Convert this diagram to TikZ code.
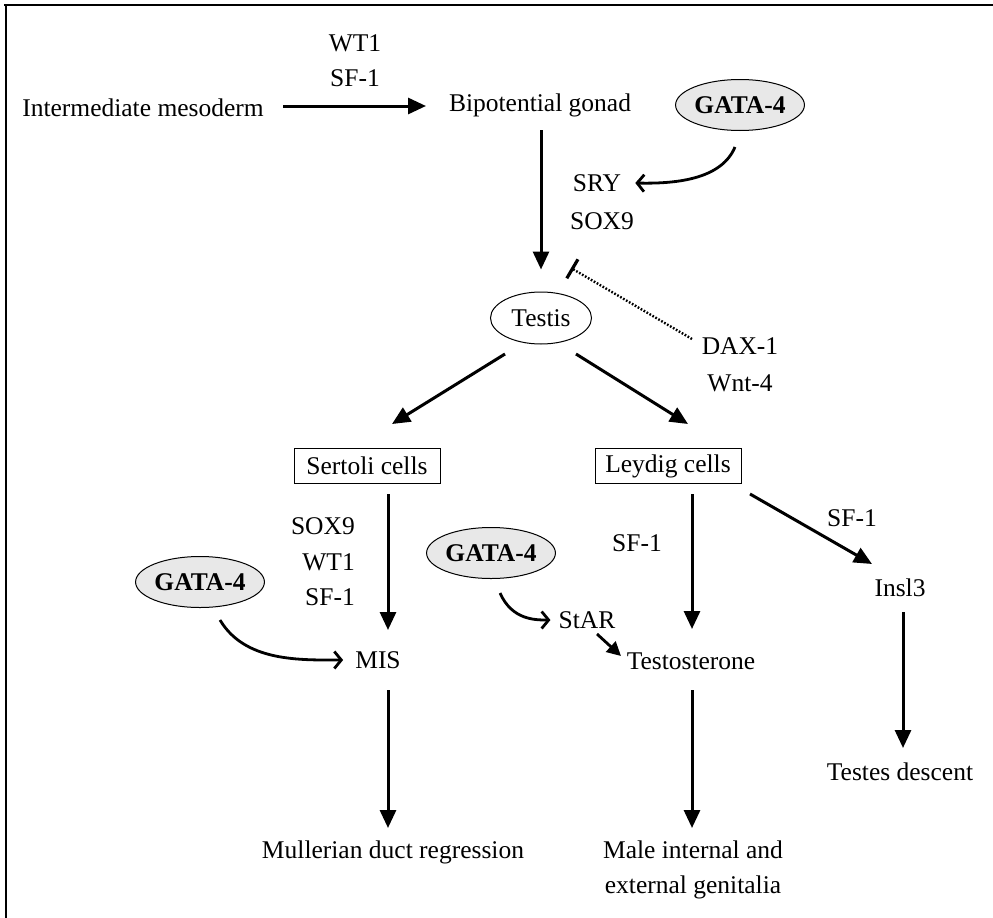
\documentclass[tikz,border=0pt]{standalone}
\usepackage{fontspec}
\setmainfont{Liberation Serif}
\usetikzlibrary{arrows.meta,shapes.geometric}
\begin{document}
\begin{tikzpicture}[x=1pt,y=-1pt,
  every node/.style={font=\fontsize{25.5}{35}\selectfont, inner sep=0pt},
  gata/.style={ellipse, draw, line width=1pt, fill=gray!18, minimum width=124pt, minimum height=51pt, font=\fontsize{25.5}{28}\selectfont\bfseries},
  cellbox/.style={rectangle, draw, line width=1pt, minimum width=146pt, minimum height=35pt},
  arr/.style={line width=3pt, -{Triangle[length=18pt,width=16pt]}},
  openarr/.style={line width=2.8pt, -{Straight Barb[length=7pt,width=17pt,line width=2.8pt]}},
  inhib/.style={line width=2.4pt, dash pattern=on 1.7pt off 1.7pt, -{Bar[width=22pt,line width=3.2pt]}}
]
\useasboundingbox (0,0) rectangle (993,918);
% frame
\draw[line width=2.2pt] (4,5) -- (993,5);
\draw[line width=2.2pt] (6,4) -- (6,918);

% top row
\node (wt1a) at (355,43) {WT1};
\node (sf1a) at (355,78) {SF-1};
\node (im) at (143,108) {Intermediate mesoderm};
\node (bg) at (540,105) {Bipotential gonad};
\node[gata] (g1) at (740,105) {GATA-4};
\coordinate (imr) at (283,106);
\coordinate (bgl) at (426,106);
\draw[arr] (imr) -- (bgl);

\node (sry) at (597,183) {SRY};
\node (sox9a) at (602,221) {SOX9};
\draw[openarr] ([xshift=-5pt,yshift=-16pt]g1.south) .. controls (722,178) and (680,184) .. ([xshift=14pt]sry.east);

% testis
\node[ellipse, draw, line width=1pt, minimum width=101pt, minimum height=52pt] (testis) at (541,318) {Testis};
\draw[arr] (541,130) -- ([yshift=22pt]testis.north);
\node (dax) at (740,346) {DAX-1};
\node (wnt) at (740,383) {Wnt-4};
\coordinate (inhibstart) at (692,339);
\coordinate (inhibend) at (571,268);
\draw[inhib] (inhibstart) -- (inhibend);

% cells
\node[cellbox] (sert) at (367,466) {Sertoli cells};
\node[cellbox] (leyd) at (668,466) {Leydig cells};
\draw[arr] (505,354) -- (392,424);
\draw[arr] (576,354) -- (688,424);

% Sertoli branch
\node[anchor=east] (sox9b) at (355,526) {SOX9};
\node[anchor=east] (wt1b) at (355,562) {WT1};
\node[anchor=east] (sf1b) at (355,597) {SF-1};
\node[gata] (g2) at (200,582) {GATA-4};
\node (mis) at (378,660) {MIS};
\draw[arr] (388,494) -- (388,630);
\draw[openarr] ([xshift=20pt,yshift=-12pt]g2.south) .. controls (245,662) and (300,660) .. ([xshift=-12pt]mis.west);
\node (mdr) at (393,852) {Mullerian duct regression};
\draw[arr] (388,690) -- (388,828);

% Leydig branch
\node[gata] (g3) at (491,553) {GATA-4};
\node (star) at (587,620) {StAR};
\node (sf1c) at (637,543) {SF-1};
\node (testo) at (691,661) {Testosterone};
\draw[openarr] ([xshift=9pt,yshift=-14pt]g3.south) .. controls (512,620) and (535,620) .. ([xshift=-8pt]star.west);
\draw[line width=2.8pt, -{Triangle[length=14pt,width=14pt]}] (597,634) -- (621,656);
\draw[arr] (692,494) -- (692,629);
\node[align=center] (male) at (693,870) {Male internal and\\external genitalia};
\draw[arr] (692,690) -- (692,828);

% Insl3 branch
\node (sf1d) at (852,518) {SF-1};
\node (insl) at (900,588) {Insl3};
\draw[arr] (750,494) -- (872,564);
\node (td) at (900,772) {Testes descent};
\draw[arr] (903,612) -- (903,748);
\end{tikzpicture}
\end{document}
